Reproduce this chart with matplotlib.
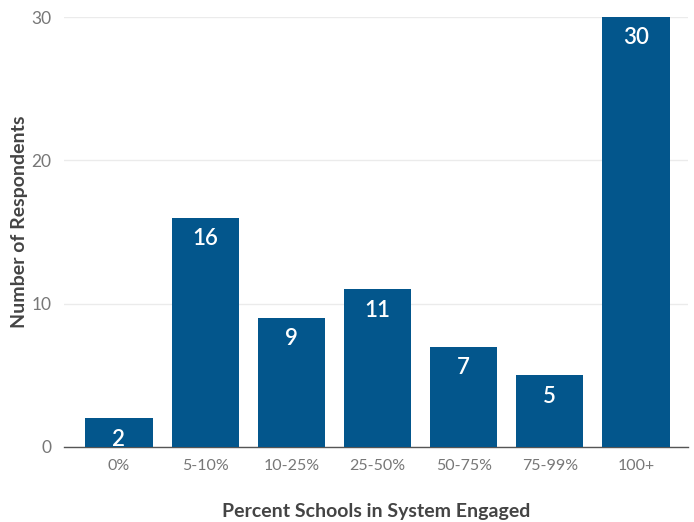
import matplotlib
matplotlib.use("Agg")
import matplotlib.pyplot as plt

plt.rcParams['font.family'] = ['Lato', 'DejaVu Sans']

# Dados
categorias = ['0%', '5-10%', '10-25%', '25-50%', '50-75%', '75-99%', '100+']
respostas = [2, 16, 9, 11, 7, 5, 30]

cor_barra = '#03568c'

fig = plt.figure(figsize=(6.94, 5.22), dpi=100)
ax = fig.add_axes([0.092, 0.1437, 0.899, 0.8237])

barras = ax.bar(range(len(categorias)), respostas, width=0.78, color=cor_barra, zorder=3)

# Rótulos brancos dentro das barras
for b, v in zip(barras, respostas):
    ax.annotate(str(v), (b.get_x() + b.get_width() / 2, v), xytext=(0, -15),
                textcoords='offset points', ha='center', va='center',
                color='white', fontsize=16, fontweight='semibold', zorder=4)

ax.set_xlim(-0.64, 6.6)
ax.set_ylim(0, 30)
ax.set_yticks([0, 10, 20, 30])
ax.set_xticks(range(len(categorias)))
ax.set_xticklabels(categorias)

ax.grid(axis='y', color='#ebebeb', linewidth=1, zorder=0)
for lado in ['top', 'right', 'left']:
    ax.spines[lado].set_visible(False)
ax.spines['bottom'].set_color('#555555')
ax.spines['bottom'].set_linewidth(1)

ax.tick_params(axis='both', length=0, labelcolor='#777777')
ax.tick_params(axis='x', pad=9, labelsize=11.5)
ax.tick_params(axis='y', pad=9, labelsize=12.5)

ax.set_xlabel('Percent Schools in System Engaged', fontsize=14, fontweight='bold',
              color='#444444', labelpad=21)
fig.text(20 / 694, 1 - 222 / 522, 'Number of Respondents', rotation=90,
         ha='center', va='center', fontsize=14, fontweight='bold', color='#444444')

fig.savefig('out.png', dpi=100)
